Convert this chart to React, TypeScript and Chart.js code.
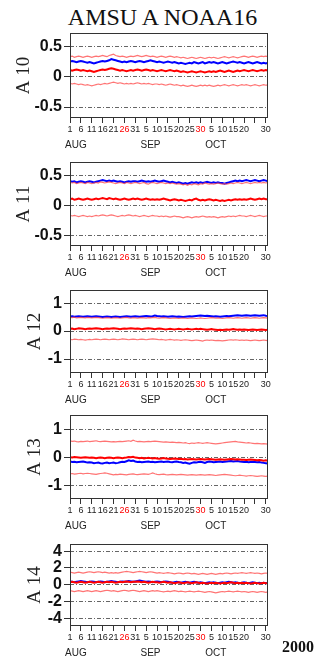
import React, { useEffect, useRef } from "react";
import { Chart, registerables } from "chart.js";

Chart.register(...registerables);

// ---------- data ----------
const chartTitle = "AMSU A NOAA16";
const yearLabel = "2000";

// x axis: day index 0 = Aug 1 ... 91 = Oct 31
const xTickDays = [0, 5, 10, 15, 20, 25, 30, 35, 40, 45, 50, 55, 60, 65, 70, 75, 80, 85, 90];
const xTickLabels = ["1", "6", "11", "16", "21", "26", "31", "5", "10", "15", "20", "25", "30", "5", "10", "15", "20", "", "30"];
const xRedTickIdx = [5, 12];
const monthNames = ["AUG", "SEP", "OCT"];
const monthCenters = [2.7, 37, 67];

const ticksHalf = [0.5, 0, -0.5];
const labelsHalf = ["0.5", "0", "-0.5"];
const ticksOne = [1, 0, -1];
const labelsOne = ["1", "0", "-1"];
const ticksFour = [4, 2, 0, -2, -4];
const labelsFour = ["4", "2", "0", "-2", "-4"];

// ---- A10 ----
const a10Upper = [
  0.33, 0.34, 0.32, 0.33, 0.34, 0.33, 0.32, 0.33, 0.34, 0.33,
  0.32, 0.33, 0.34, 0.33, 0.34, 0.35, 0.34, 0.33, 0.35, 0.36,
  0.37, 0.35, 0.34, 0.33, 0.34, 0.33, 0.32, 0.33, 0.34, 0.33,
  0.34, 0.35, 0.34, 0.33, 0.34, 0.35, 0.34, 0.33, 0.34, 0.33,
  0.32, 0.33, 0.34, 0.33, 0.32, 0.33, 0.34, 0.33, 0.32, 0.33,
  0.32, 0.31, 0.32, 0.31, 0.30, 0.31, 0.32, 0.31, 0.30, 0.31,
  0.32, 0.31, 0.30, 0.31, 0.32, 0.31, 0.32, 0.31, 0.30, 0.31,
  0.32, 0.33, 0.32, 0.31, 0.32, 0.33, 0.32, 0.31, 0.32, 0.33,
  0.34, 0.33, 0.32, 0.33, 0.34, 0.33, 0.32, 0.33, 0.34, 0.33, 0.34, 0.33,
];
const a10Blue = [
  0.25, 0.26, 0.25, 0.24, 0.25, 0.26, 0.25, 0.24, 0.23, 0.24,
  0.23, 0.22, 0.23, 0.24, 0.25, 0.26, 0.25, 0.26, 0.27, 0.29,
  0.28, 0.27, 0.26, 0.25, 0.24, 0.25, 0.24, 0.25, 0.26, 0.25,
  0.24, 0.25, 0.26, 0.25, 0.24, 0.25, 0.26, 0.27, 0.26, 0.25,
  0.24, 0.25, 0.24, 0.23, 0.24, 0.25, 0.24, 0.23, 0.24, 0.23,
  0.22, 0.23, 0.22, 0.21, 0.22, 0.23, 0.22, 0.24, 0.23, 0.22,
  0.23, 0.24, 0.22, 0.23, 0.24, 0.23, 0.24, 0.23, 0.22, 0.23,
  0.24, 0.23, 0.22, 0.23, 0.24, 0.25, 0.24, 0.23, 0.24, 0.23,
  0.22, 0.23, 0.24, 0.23, 0.22, 0.23, 0.24, 0.23, 0.22, 0.23, 0.22, 0.23,
];
const a10Mid = [
  0.11, 0.10, 0.11, 0.12, 0.11, 0.10, 0.11, 0.10, 0.09, 0.10,
  0.09, 0.08, 0.09, 0.10, 0.11, 0.12, 0.11, 0.12, 0.13, 0.14,
  0.13, 0.12, 0.11, 0.10, 0.11, 0.10, 0.09, 0.10, 0.11, 0.10,
  0.11, 0.12, 0.11, 0.10, 0.11, 0.12, 0.11, 0.10, 0.11, 0.10,
  0.09, 0.10, 0.11, 0.10, 0.09, 0.10, 0.11, 0.10, 0.09, 0.10,
  0.09, 0.08, 0.09, 0.08, 0.07, 0.08, 0.09, 0.08, 0.07, 0.08,
  0.09, 0.08, 0.07, 0.08, 0.09, 0.08, 0.09, 0.08, 0.09, 0.10,
  0.09, 0.08, 0.09, 0.10, 0.09, 0.08, 0.09, 0.10, 0.09, 0.10,
  0.11, 0.10, 0.09, 0.10, 0.11, 0.10, 0.09, 0.10, 0.11, 0.10, 0.11, 0.10,
];
const a10Lower = [
  -0.11, -0.12, -0.11, -0.12, -0.13, -0.12, -0.13, -0.14, -0.13, -0.14,
  -0.15, -0.14, -0.13, -0.12, -0.13, -0.12, -0.11, -0.12, -0.11, -0.10,
  -0.09, -0.10, -0.11, -0.10, -0.11, -0.12, -0.11, -0.12, -0.11, -0.12,
  -0.11, -0.10, -0.11, -0.12, -0.11, -0.12, -0.11, -0.12, -0.13, -0.12,
  -0.12, -0.13, -0.12, -0.13, -0.14, -0.13, -0.12, -0.13, -0.14, -0.13,
  -0.14, -0.15, -0.14, -0.15, -0.16, -0.15, -0.14, -0.15, -0.16, -0.15,
  -0.14, -0.15, -0.14, -0.15, -0.14, -0.15, -0.16, -0.15, -0.14, -0.15,
  -0.14, -0.13, -0.14, -0.15, -0.14, -0.13, -0.14, -0.15, -0.14, -0.13,
  -0.14, -0.13, -0.14, -0.15, -0.14, -0.13, -0.14, -0.15, -0.14, -0.13, -0.14, -0.14,
];

// ---- A11 ----
const a11Upper = [
  0.38, 0.37, 0.38, 0.36, 0.37, 0.38, 0.37, 0.36, 0.38, 0.37,
  0.36, 0.37, 0.38, 0.37, 0.39, 0.38, 0.37, 0.38, 0.39, 0.38,
  0.37, 0.36, 0.37, 0.38, 0.37, 0.36, 0.38, 0.37, 0.36, 0.37,
  0.38, 0.37, 0.36, 0.37, 0.38, 0.36, 0.35, 0.37, 0.38, 0.37,
  0.36, 0.37, 0.38, 0.37, 0.36, 0.37, 0.36, 0.37, 0.36, 0.35,
  0.36, 0.35, 0.34, 0.35, 0.33, 0.35, 0.34, 0.36, 0.35, 0.34,
  0.36, 0.35, 0.37, 0.36, 0.35, 0.36, 0.35, 0.36, 0.37, 0.36,
  0.35, 0.36, 0.35, 0.36, 0.37, 0.36, 0.37, 0.38, 0.37, 0.36,
  0.37, 0.38, 0.37, 0.36, 0.37, 0.38, 0.37, 0.38, 0.37, 0.38, 0.37, 0.38,
];
const a11Blue = [
  0.40, 0.39, 0.40, 0.38, 0.39, 0.40, 0.39, 0.38, 0.39, 0.40,
  0.39, 0.38, 0.39, 0.40, 0.41, 0.42, 0.41, 0.40, 0.41, 0.40,
  0.41, 0.40, 0.39, 0.40, 0.39, 0.38, 0.39, 0.40, 0.39, 0.40,
  0.40, 0.39, 0.40, 0.41, 0.40, 0.39, 0.40, 0.39, 0.40, 0.41,
  0.40, 0.39, 0.40, 0.41, 0.40, 0.39, 0.38, 0.39, 0.38, 0.37,
  0.38, 0.37, 0.36, 0.37, 0.36, 0.37, 0.38, 0.37, 0.38, 0.37,
  0.38, 0.37, 0.38, 0.39, 0.38, 0.37, 0.38, 0.37, 0.38, 0.37,
  0.37, 0.36, 0.37, 0.38, 0.39, 0.40, 0.41, 0.40, 0.41, 0.40,
  0.41, 0.42, 0.41, 0.40, 0.41, 0.42, 0.41, 0.40, 0.41, 0.42, 0.41, 0.40,
];
const a11Mid = [
  0.10, 0.11, 0.09, 0.10, 0.11, 0.10, 0.09, 0.10, 0.11, 0.10,
  0.09, 0.10, 0.11, 0.10, 0.11, 0.12, 0.11, 0.10, 0.12, 0.11,
  0.10, 0.11, 0.10, 0.09, 0.10, 0.11, 0.10, 0.09, 0.10, 0.11,
  0.10, 0.11, 0.10, 0.09, 0.10, 0.11, 0.10, 0.09, 0.10, 0.09,
  0.10, 0.09, 0.10, 0.11, 0.10, 0.09, 0.08, 0.09, 0.10, 0.09,
  0.08, 0.09, 0.08, 0.07, 0.08, 0.09, 0.08, 0.10, 0.11, 0.09,
  0.08, 0.09, 0.08, 0.09, 0.10, 0.09, 0.08, 0.09, 0.08, 0.07,
  0.08, 0.07, 0.08, 0.09, 0.08, 0.09, 0.10, 0.09, 0.10, 0.09,
  0.10, 0.09, 0.10, 0.11, 0.10, 0.09, 0.10, 0.11, 0.10, 0.11, 0.10, 0.10,
];
const a11Lower = [
  -0.17, -0.18, -0.17, -0.18, -0.19, -0.18, -0.17, -0.18, -0.19, -0.18,
  -0.19, -0.18, -0.17, -0.18, -0.17, -0.16, -0.17, -0.18, -0.17, -0.16,
  -0.17, -0.18, -0.19, -0.18, -0.17, -0.18, -0.17, -0.16, -0.17, -0.18,
  -0.17, -0.18, -0.19, -0.18, -0.17, -0.18, -0.19, -0.18, -0.17, -0.18,
  -0.18, -0.19, -0.18, -0.19, -0.18, -0.19, -0.20, -0.19, -0.18, -0.19,
  -0.19, -0.20, -0.21, -0.20, -0.19, -0.20, -0.21, -0.20, -0.19, -0.20,
  -0.19, -0.18, -0.19, -0.20, -0.19, -0.20, -0.19, -0.20, -0.21, -0.20,
  -0.19, -0.20, -0.19, -0.18, -0.19, -0.18, -0.19, -0.18, -0.17, -0.18,
  -0.18, -0.19, -0.18, -0.17, -0.18, -0.19, -0.18, -0.17, -0.18, -0.19, -0.18, -0.18,
];

// ---- A12 ----
const a12Blue = [
  0.52, 0.53, 0.51, 0.52, 0.53, 0.52, 0.51, 0.52, 0.53, 0.52,
  0.51, 0.52, 0.53, 0.52, 0.51, 0.50, 0.51, 0.52, 0.51, 0.50,
  0.51, 0.52, 0.51, 0.50, 0.51, 0.52, 0.53, 0.52, 0.51, 0.52,
  0.53, 0.52, 0.51, 0.52, 0.53, 0.54, 0.53, 0.52, 0.53, 0.56,
  0.54, 0.53, 0.52, 0.53, 0.52, 0.51, 0.52, 0.53, 0.52, 0.51,
  0.52, 0.51, 0.50, 0.51, 0.52, 0.53, 0.52, 0.53, 0.54, 0.55,
  0.56, 0.55, 0.54, 0.55, 0.54, 0.53, 0.52, 0.53, 0.52, 0.51,
  0.52, 0.53, 0.54, 0.53, 0.54, 0.55, 0.56, 0.57, 0.56, 0.55,
  0.56, 0.57, 0.56, 0.55, 0.56, 0.57, 0.56, 0.55, 0.56, 0.57, 0.55, 0.54,
];
const a12Upper = [
  0.49, 0.48, 0.50, 0.47, 0.48, 0.49, 0.48, 0.47, 0.49, 0.48,
  0.47, 0.48, 0.49, 0.48, 0.47, 0.46, 0.47, 0.48, 0.47, 0.46,
  0.47, 0.48, 0.47, 0.46, 0.47, 0.48, 0.49, 0.47, 0.46, 0.48,
  0.47, 0.46, 0.47, 0.48, 0.47, 0.46, 0.48, 0.47, 0.48, 0.49,
  0.47, 0.46, 0.47, 0.48, 0.47, 0.46, 0.45, 0.46, 0.47, 0.46,
  0.45, 0.46, 0.47, 0.46, 0.45, 0.46, 0.47, 0.46, 0.45, 0.46,
  0.47, 0.46, 0.45, 0.46, 0.47, 0.48, 0.47, 0.46, 0.47, 0.46,
  0.45, 0.46, 0.47, 0.48, 0.47, 0.46, 0.47, 0.48, 0.47, 0.46,
  0.47, 0.48, 0.47, 0.46, 0.47, 0.48, 0.47, 0.46, 0.47, 0.48, 0.47, 0.46,
];
const a12Mid = [
  0.08, 0.09, 0.07, 0.08, 0.10, 0.09, 0.08, 0.07, 0.08, 0.09,
  0.08, 0.09, 0.10, 0.09, 0.08, 0.07, 0.08, 0.09, 0.08, 0.09,
  0.10, 0.09, 0.08, 0.07, 0.08, 0.09, 0.08, 0.09, 0.10, 0.09,
  0.08, 0.09, 0.08, 0.07, 0.08, 0.09, 0.10, 0.09, 0.08, 0.07,
  0.08, 0.09, 0.08, 0.07, 0.06, 0.07, 0.08, 0.07, 0.06, 0.07,
  0.08, 0.07, 0.06, 0.07, 0.08, 0.07, 0.06, 0.07, 0.08, 0.07,
  0.08, 0.07, 0.06, 0.05, 0.06, 0.07, 0.06, 0.05, 0.04, 0.05,
  0.04, 0.05, 0.06, 0.05, 0.06, 0.07, 0.06, 0.05, 0.06, 0.05,
  0.06, 0.05, 0.04, 0.05, 0.06, 0.05, 0.04, 0.05, 0.06, 0.05, 0.04, 0.05,
];
const a12Lower = [
  -0.30, -0.31, -0.29, -0.30, -0.31, -0.30, -0.31, -0.32, -0.31, -0.30,
  -0.31, -0.30, -0.29, -0.30, -0.31, -0.30, -0.29, -0.30, -0.31, -0.30,
  -0.29, -0.30, -0.31, -0.30, -0.28, -0.29, -0.30, -0.31, -0.30, -0.29,
  -0.30, -0.31, -0.30, -0.29, -0.30, -0.31, -0.30, -0.29, -0.28, -0.29,
  -0.30, -0.31, -0.30, -0.31, -0.32, -0.31, -0.30, -0.31, -0.32, -0.31,
  -0.32, -0.33, -0.32, -0.31, -0.32, -0.33, -0.34, -0.33, -0.32, -0.33,
  -0.34, -0.36, -0.33, -0.32, -0.33, -0.32, -0.33, -0.34, -0.33, -0.34,
  -0.35, -0.34, -0.33, -0.32, -0.31, -0.32, -0.31, -0.32, -0.33, -0.32,
  -0.33, -0.32, -0.33, -0.34, -0.33, -0.32, -0.33, -0.34, -0.33, -0.32, -0.33, -0.34,
];

// ---- A13 ----
const a13Upper = [
  0.60, 0.58, 0.59, 0.57, 0.56, 0.58, 0.57, 0.58, 0.59, 0.57,
  0.58, 0.59, 0.60, 0.58, 0.57, 0.58, 0.59, 0.58, 0.57, 0.56,
  0.57, 0.56, 0.57, 0.58, 0.57, 0.58, 0.59, 0.60, 0.58, 0.62,
  0.59, 0.57, 0.58, 0.57, 0.56, 0.57, 0.58, 0.57, 0.58, 0.59,
  0.58, 0.57, 0.56, 0.55, 0.56, 0.55, 0.54, 0.55, 0.54, 0.53,
  0.54, 0.53, 0.52, 0.53, 0.51, 0.50, 0.52, 0.51, 0.52, 0.53,
  0.52, 0.51, 0.52, 0.53, 0.52, 0.51, 0.50, 0.49, 0.50, 0.51,
  0.52, 0.53, 0.54, 0.55, 0.56, 0.57, 0.58, 0.56, 0.55, 0.54,
  0.53, 0.52, 0.53, 0.52, 0.51, 0.50, 0.51, 0.50, 0.49, 0.50, 0.49, 0.48,
];
const a13Mid = [
  0.01, 0.00, 0.02, 0.01, 0.00, -0.01, 0.00, 0.01, 0.00, -0.01,
  0.00, -0.01, -0.02, -0.01, 0.00, -0.01, -0.02, -0.01, 0.00, -0.01,
  -0.02, -0.01, 0.00, -0.01, -0.02, -0.01, 0.00, 0.02, 0.01, 0.03,
  0.00, -0.01, -0.02, -0.01, -0.03, -0.02, -0.01, -0.02, -0.03, -0.02,
  -0.03, -0.04, -0.03, -0.02, -0.03, -0.04, -0.05, -0.04, -0.03, -0.04,
  -0.05, -0.04, -0.06, -0.05, -0.07, -0.06, -0.05, -0.06, -0.07, -0.06,
  -0.05, -0.06, -0.07, -0.06, -0.05, -0.06, -0.07, -0.08, -0.07, -0.06,
  -0.07, -0.08, -0.07, -0.06, -0.05, -0.06, -0.07, -0.06, -0.07, -0.08,
  -0.08, -0.09, -0.08, -0.07, -0.08, -0.09, -0.10, -0.09, -0.10, -0.11, -0.10, -0.11,
];
const a13Blue = [
  -0.14, -0.16, -0.15, -0.17, -0.16, -0.15, -0.14, -0.16, -0.18, -0.17,
  -0.18, -0.20, -0.19, -0.18, -0.20, -0.21, -0.19, -0.18, -0.20, -0.19,
  -0.18, -0.20, -0.19, -0.17, -0.15, -0.16, -0.13, -0.10, -0.12, -0.11,
  -0.14, -0.16, -0.15, -0.17, -0.16, -0.15, -0.14, -0.16, -0.15, -0.17,
  -0.16, -0.15, -0.14, -0.16, -0.15, -0.14, -0.16, -0.17, -0.15, -0.14,
  -0.16, -0.17, -0.19, -0.18, -0.20, -0.22, -0.19, -0.17, -0.18, -0.16,
  -0.15, -0.17, -0.19, -0.16, -0.14, -0.15, -0.17, -0.16, -0.15, -0.14,
  -0.16, -0.15, -0.14, -0.13, -0.12, -0.14, -0.13, -0.12, -0.14, -0.15,
  -0.16, -0.15, -0.17, -0.16, -0.15, -0.16, -0.17, -0.16, -0.18, -0.19, -0.20, -0.21,
];
const a13Lower = [
  -0.58, -0.57, -0.59, -0.58, -0.57, -0.56, -0.58, -0.57, -0.56, -0.57,
  -0.58, -0.59, -0.60, -0.58, -0.57, -0.56, -0.55, -0.56, -0.58, -0.60,
  -0.62, -0.60, -0.61, -0.59, -0.60, -0.61, -0.62, -0.60, -0.59, -0.58,
  -0.60, -0.61, -0.60, -0.59, -0.58, -0.59, -0.60, -0.58, -0.55, -0.58,
  -0.60, -0.61, -0.60, -0.59, -0.61, -0.62, -0.61, -0.60, -0.61, -0.62,
  -0.61, -0.60, -0.61, -0.62, -0.63, -0.62, -0.61, -0.62, -0.63, -0.62,
  -0.61, -0.62, -0.63, -0.62, -0.61, -0.62, -0.63, -0.64, -0.63, -0.62,
  -0.61, -0.60, -0.61, -0.62, -0.63, -0.64, -0.65, -0.64, -0.63, -0.64,
  -0.65, -0.66, -0.65, -0.64, -0.65, -0.66, -0.67, -0.66, -0.65, -0.66, -0.67, -0.66,
];

// ---- A14 ----
const a14Upper = [
  1.50, 1.45, 1.40, 1.45, 1.50, 1.45, 1.40, 1.45, 1.50, 1.55,
  1.50, 1.45, 1.50, 1.55, 1.50, 1.45, 1.50, 1.45, 1.40, 1.45,
  1.40, 1.45, 1.40, 1.45, 1.50, 1.55, 1.60, 1.55, 1.50, 1.45,
  1.50, 1.55, 1.60, 1.55, 1.50, 1.45, 1.50, 1.55, 1.50, 1.45,
  1.40, 1.45, 1.40, 1.35, 1.40, 1.45, 1.40, 1.35, 1.30, 1.35,
  1.40, 1.35, 1.30, 1.35, 1.40, 1.35, 1.30, 1.35, 1.30, 1.25,
  1.30, 1.35, 1.30, 1.25, 1.30, 1.35, 1.30, 1.25, 1.30, 1.35,
  1.30, 1.35, 1.40, 1.35, 1.30, 1.35, 1.40, 1.35, 1.40, 1.45,
  1.40, 1.35, 1.40, 1.45, 1.40, 1.35, 1.40, 1.35, 1.30, 1.35, 1.40, 1.35,
];
const a14Mid = [
  0.30, 0.35, 0.30, 0.25, 0.30, 0.35, 0.30, 0.25, 0.30, 0.35,
  0.30, 0.25, 0.30, 0.35, 0.30, 0.25, 0.30, 0.35, 0.30, 0.35,
  0.30, 0.25, 0.30, 0.35, 0.30, 0.35, 0.40, 0.35, 0.30, 0.35,
  0.35, 0.40, 0.35, 0.30, 0.35, 0.30, 0.25, 0.30, 0.35, 0.30,
  0.30, 0.25, 0.30, 0.35, 0.30, 0.25, 0.30, 0.25, 0.20, 0.25,
  0.30, 0.25, 0.20, 0.25, 0.30, 0.25, 0.20, 0.25, 0.30, 0.25,
  0.20, 0.25, 0.20, 0.15, 0.20, 0.25, 0.20, 0.25, 0.20, 0.15,
  0.20, 0.25, 0.20, 0.25, 0.30, 0.25, 0.20, 0.25, 0.20, 0.25,
  0.20, 0.25, 0.20, 0.15, 0.20, 0.25, 0.20, 0.15, 0.20, 0.25, 0.20, 0.15,
];
const a14Blue = [
  0.40, 0.35, 0.30, 0.35, 0.40, 0.45, 0.40, 0.35, 0.30, 0.35,
  0.40, 0.35, 0.30, 0.35, 0.40, 0.35, 0.30, 0.35, 0.40, 0.45,
  0.40, 0.35, 0.30, 0.35, 0.40, 0.35, 0.40, 0.45, 0.40, 0.35,
  0.40, 0.45, 0.50, 0.45, 0.40, 0.35, 0.40, 0.35, 0.30, 0.35,
  0.40, 0.35, 0.30, 0.35, 0.40, 0.35, 0.30, 0.25, 0.30, 0.35,
  0.30, 0.25, 0.30, 0.35, 0.30, 0.25, 0.30, 0.35, 0.30, 0.25,
  0.30, 0.25, 0.20, 0.25, 0.30, 0.25, 0.30, 0.25, 0.20, 0.25,
  0.30, 0.25, 0.30, 0.35, 0.30, 0.25, 0.30, 0.25, 0.20, 0.25,
  0.30, 0.25, 0.20, 0.25, 0.30, 0.25, 0.20, 0.25, 0.20, 0.25, 0.20, 0.25,
];
const a14Lower = [
  -0.70, -0.75, -0.80, -0.75, -0.70, -0.75, -0.80, -0.75, -0.70, -0.75,
  -0.80, -0.75, -0.70, -0.75, -0.80, -0.75, -0.70, -0.65, -0.70, -0.75,
  -0.70, -0.75, -0.80, -0.75, -0.70, -0.65, -0.70, -0.75, -0.70, -0.65,
  -0.70, -0.75, -0.80, -0.75, -0.70, -0.75, -0.80, -0.75, -0.70, -0.75,
  -0.70, -0.75, -0.80, -0.85, -0.80, -0.75, -0.80, -0.75, -0.70, -0.75,
  -0.80, -0.75, -0.80, -0.85, -0.80, -0.75, -0.80, -0.85, -0.80, -0.75,
  -0.80, -0.85, -0.90, -0.85, -0.80, -0.85, -0.90, -0.95, -0.90, -0.85,
  -0.80, -0.85, -0.80, -0.75, -0.80, -0.85, -0.80, -0.75, -0.80, -0.85,
  -0.80, -0.85, -0.90, -0.85, -0.80, -0.85, -0.90, -0.85, -0.80, -0.85, -0.90, -0.85,
];

// ---------- panel definitions ----------
type PanelDef = {
  title: string;
  min: number;
  max: number;
  ticks: number[];
  labels: string[];
  upper: number[];
  lower: number[];
  mid: number[];
  blue: number[];
};

const panels: PanelDef[] = [
  { title: "A 10", min: -0.68, max: 0.72, ticks: ticksHalf, labels: labelsHalf, upper: a10Upper, lower: a10Lower, mid: a10Mid, blue: a10Blue },
  { title: "A 11", min: -0.68, max: 0.72, ticks: ticksHalf, labels: labelsHalf, upper: a11Upper, lower: a11Lower, mid: a11Mid, blue: a11Blue },
  { title: "A 12", min: -1.5, max: 1.47, ticks: ticksOne, labels: labelsOne, upper: a12Upper, lower: a12Lower, mid: a12Mid, blue: a12Blue },
  { title: "A 13", min: -1.48, max: 1.52, ticks: ticksOne, labels: labelsOne, upper: a13Upper, lower: a13Lower, mid: a13Mid, blue: a13Blue },
  { title: "A 14", min: -4.9, max: 4.85, ticks: ticksFour, labels: labelsFour, upper: a14Upper, lower: a14Lower, mid: a14Mid, blue: a14Blue },
];

// ---------- layout ----------
const W = 321;
const PLOT_LEFT = 70;
const PLOT_RIGHT = 268;
const PAD_TOP = 14;
const X_AXIS_H = 36;
const boxes = [
  { top: 33, bottom: 118, titlePad: 13 },
  { top: 162, bottom: 246, titlePad: 13 },
  { top: 290, bottom: 373, titlePad: 24 },
  { top: 415, bottom: 499, titlePad: 24 },
  { top: 544, bottom: 626, titlePad: 24 },
];

const framePlugin = {
  id: "frame",
  afterDraw(chart: any) {
    const { ctx, chartArea } = chart;
    const { left, top, right, bottom } = chartArea;
    ctx.save();
    ctx.strokeStyle = "#333";
    ctx.lineWidth = 1;
    ctx.strokeRect(Math.round(left) + 0.5, Math.round(top) + 0.5, Math.round(right - left) - 1, Math.round(bottom - top) - 1);
    ctx.restore();
  },
};

const monthPlugin = {
  id: "months",
  afterDraw(chart: any) {
    const { ctx, chartArea } = chart;
    const xs = chart.scales.x;
    ctx.save();
    ctx.font = '10px "Liberation Sans", Arial, sans-serif';
    ctx.fillStyle = "#222";
    ctx.textAlign = "center";
    ctx.textBaseline = "middle";
    monthNames.forEach((m, i) => {
      ctx.fillText(m, xs.getPixelForValue(monthCenters[i]), chartArea.bottom + 27);
    });
    ctx.restore();
  },
};

const toPts = (arr: number[]) => arr.map((v, i) => ({ x: i, y: v }));

function Panel({ def, box }: { def: PanelDef; box: { top: number; bottom: number; titlePad: number } }) {
  const ref = useRef<HTMLCanvasElement>(null);
  const canvasTop = box.top - PAD_TOP;
  const height = box.bottom - box.top + PAD_TOP + X_AXIS_H;

  useEffect(() => {
    const lightRed = "rgba(255,70,70,0.75)";
    const chart = new Chart(ref.current as HTMLCanvasElement, {
      type: "line",
      data: {
        datasets: [
          { data: toPts(def.upper), borderColor: lightRed, borderWidth: 1.2 },
          { data: toPts(def.lower), borderColor: lightRed, borderWidth: 1.2 },
          { data: toPts(def.mid), borderColor: "#ff0000", borderWidth: 2 },
          { data: toPts(def.blue), borderColor: "#0000ff", borderWidth: 2 },
        ] as any,
      },
      options: {
        responsive: false,
        maintainAspectRatio: false,
        animation: false,
        events: [],
        layout: { padding: { top: PAD_TOP, left: 0, right: W - PLOT_RIGHT, bottom: 0 } },
        elements: { point: { radius: 0 }, line: { tension: 0 } },
        plugins: { legend: { display: false }, tooltip: { enabled: false } },
        scales: {
          x: {
            type: "linear",
            min: 0,
            max: 91,
            afterFit: (s: any) => {
              s.height = X_AXIS_H;
            },
            afterBuildTicks: (s: any) => {
              s.ticks = xTickDays.map((v) => ({ value: v }));
            },
            ticks: {
              autoSkip: false,
              maxRotation: 0,
              minRotation: 0,
              padding: 1,
              font: { family: '"Liberation Sans", Arial, sans-serif', size: 9 },
              color: (c: any) => (xRedTickIdx.includes(c.index) ? "#ff0000" : "#222"),
              callback: (_v: any, i: number) => xTickLabels[i],
            },
            grid: { drawOnChartArea: false, drawTicks: true, tickLength: 5, tickColor: "#333", tickWidth: 1, tickBorderDash: [] },
            border: { display: false },
          },
          y: {
            type: "linear",
            min: def.min,
            max: def.max,
            afterFit: (s: any) => {
              s.width = PLOT_LEFT;
            },
            afterBuildTicks: (s: any) => {
              s.ticks = def.ticks.map((v) => ({ value: v }));
            },
            ticks: {
              autoSkip: false,
              padding: 2,
              font: { family: '"Liberation Sans", Arial, sans-serif', size: 16, weight: "bold" },
              color: "#111",
              callback: (_v: any, i: number) => def.labels[i],
            },
            grid: { color: "#666", lineWidth: 1, drawTicks: true, tickLength: 6, tickColor: "#333", tickWidth: 1, tickBorderDash: [] },
            border: { display: false, dash: [4, 2, 1, 2] },
            title: {
              display: true,
              text: def.title,
              font: { family: '"Liberation Serif", "Times New Roman", serif', size: 19 },
              color: "#222",
              padding: { top: box.titlePad, bottom: 0 },
            },
          },
        },
      } as any,
      plugins: [framePlugin, monthPlugin],
    });
    return () => chart.destroy();
  }, []);

  return (
    <canvas
      ref={ref}
      width={W}
      height={height}
      style={{ position: "absolute", left: 0, top: canvasTop, width: W, height, display: "block" }}
    />
  );
}

export default function App() {
  return (
    <div style={{ position: "absolute", left: 0, top: 0, width: W, height: 664, background: "#fff", overflow: "hidden" }}>
      <div
        style={{
          position: "absolute",
          left: 2,
          top: 5,
          width: W,
          textAlign: "center",
          fontFamily: '"Liberation Serif", "Times New Roman", serif',
          fontSize: 24,
          lineHeight: "24px",
          color: "#111",
          whiteSpace: "nowrap",
        }}
      >
        {chartTitle}
      </div>
      {panels.map((p, i) => (
        <Panel key={p.title} def={p} box={boxes[i]} />
      ))}
      <div
        style={{
          position: "absolute",
          left: 282,
          top: 639,
          fontFamily: '"Liberation Serif", "Times New Roman", serif',
          fontWeight: "bold",
          fontSize: 16,
          lineHeight: "16px",
          color: "#111",
        }}
      >
        {yearLabel}
      </div>
    </div>
  );
}
